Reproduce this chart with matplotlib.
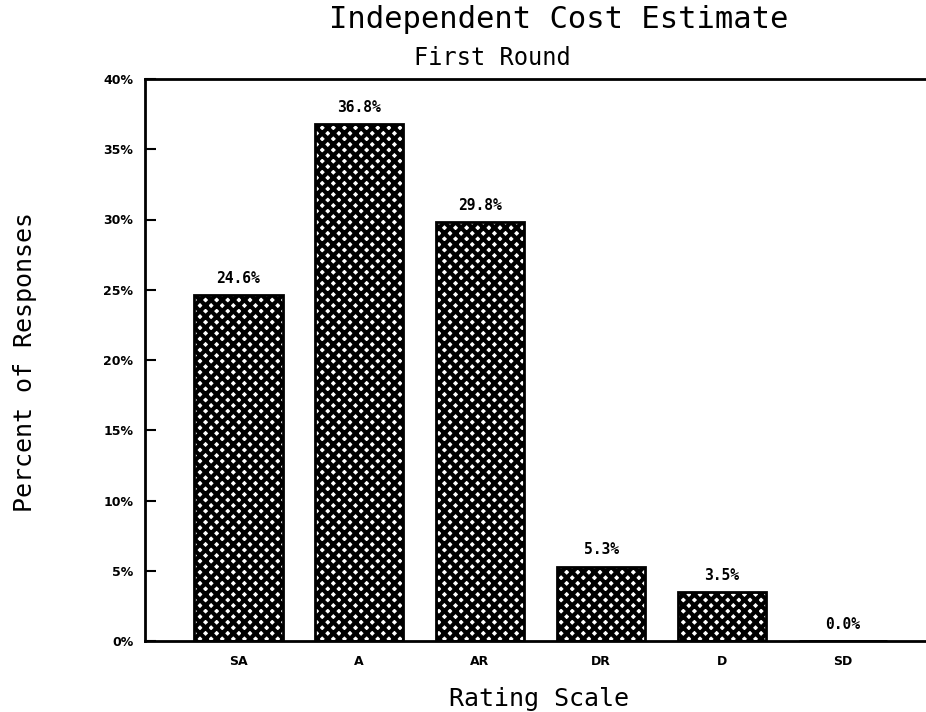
import matplotlib
matplotlib.use("Agg")
import matplotlib.pyplot as plt

categories = ["SA", "A", "AR", "DR", "D", "SD"]
values = [24.6, 36.8, 29.8, 5.3, 3.5, 0.0]
yticks = [0, 5, 10, 15, 20, 25, 30, 35, 40]

W, H = 926, 712
plt.rcParams['hatch.linewidth'] = 3.0
fig = plt.figure(figsize=(W / 100, H / 100), dpi=100)
ax = fig.add_axes([145 / W, 1 - 641 / H, (926 - 145) / W, (641 - 79) / H])

x = list(range(len(categories)))
ax.bar(x, values, width=0.735, facecolor="white", edgecolor="black",
       hatch="xxx", linewidth=2)
for xi, v in zip(x, values):
    ax.text(xi, v + 0.65, f"{v:.1f}%", ha="center", va="bottom",
            fontsize=10.5, fontweight="bold", family="DejaVu Sans Mono")

ax.set_xlim(-0.769, 5.686)
ax.set_ylim(0, 40)
ax.set_yticks(yticks)
ax.set_yticklabels([f"{t}%" for t in yticks], fontsize=9, fontweight="bold")
ax.set_xticks(x)
ax.set_xticklabels(categories, fontsize=9, fontweight="bold")
ax.tick_params(axis="y", direction="in", length=8, width=1.5, pad=8.5)
ax.tick_params(axis="x", length=0, pad=10)
ax.spines["right"].set_visible(False)
for s in ["left", "top", "bottom"]:
    ax.spines[s].set_linewidth(2)

fig.text(559 / W, 1 - 20 / H, "Independent Cost Estimate", ha="center", va="center",
         fontsize=22, family="DejaVu Sans Mono")
fig.text(492 / W, 1 - 58 / H, "First Round", ha="center", va="center",
         fontsize=17, family="DejaVu Sans Mono")
fig.text(539 / W, 1 - 699 / H, "Rating Scale", ha="center", va="center",
         fontsize=18, family="DejaVu Sans Mono")
fig.text(25 / W, 1 - 362 / H, "Percent of Responses", ha="center", va="center",
         rotation=90, fontsize=18, family="DejaVu Sans Mono")

fig.savefig("out.png", dpi=100)
